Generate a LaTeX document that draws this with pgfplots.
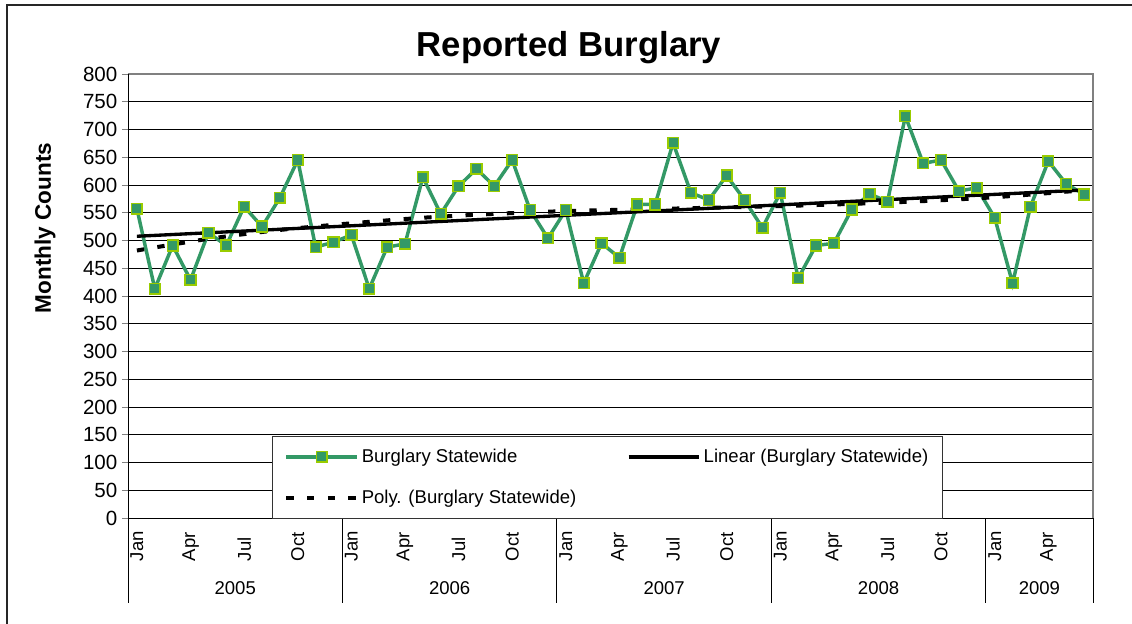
\documentclass[border=0pt]{standalone}
\usepackage{pgfplots}
\pgfplotsset{compat=1.18}
\usepackage{pgfplotstable}
\usepackage{fontspec}
\setmainfont{Liberation Sans}
\definecolor{serieslc}{RGB}{51,153,102}
\definecolor{markedge}{RGB}{153,204,0}
\definecolor{framegray}{RGB}{128,128,128}

\pgfplotstableread{
x y
0 557
1 413
2 491
3 429
4 514
5 491
6 561
7 525
8 577
9 645
10 488
11 497
12 510
13 413
14 488
15 494
16 614
17 548
18 598
19 629
20 598
21 645
22 555
23 504
24 555
25 423
26 495
27 469
28 565
29 565
30 676
31 586
32 573
33 617
34 573
35 523
36 586
37 432
38 491
39 495
40 556
41 584
42 570
43 724
44 639
45 645
46 589
47 595
48 541
49 423
50 561
51 643
52 602
53 583
}\burglary

\pgfplotstableread{
x y
0 482
4 503
8 519
12 531
16 541
20 548
24 553
28 556
32 559
36 562
40 566
44 571
48 578
52 588
53 591
}\polytrend

\begin{document}
\begin{tikzpicture}
\useasboundingbox (0pt,0pt) rectangle (849pt,-468pt);
\fill[white] (0pt,0pt) rectangle (849pt,-468pt);
\draw[line width=1.4pt, black!85] (5.25pt,-470pt) -- (5.25pt,-3.75pt) -- (851pt,-3.75pt);

\node[font=\bfseries\fontsize{26}{30}\selectfont, anchor=base] at (426.75pt,-42.5pt) {Reported Burglary};
\node[rotate=90, font=\bfseries\fontsize{16.9}{20}\selectfont] at (33.75pt,-171pt) {Monthly Counts};

\begin{axis}[
  at={(96pt,-388.5pt)}, anchor=south west, scale only axis,
  width=723.75pt, height=333pt,
  xmin=-0.5, xmax=53.5, ymin=0, ymax=800,
  ytick={0,50,...,800},
  xtick={0,3,...,51},
  xticklabels={Jan,Apr,Jul,Oct,Jan,Apr,Jul,Oct,Jan,Apr,Jul,Oct,Jan,Apr,Jul,Oct,Jan,Apr},
  ytick pos=left,
  xtick pos=bottom,
  ymajorgrids,
  grid style={black, line width=0.6pt},
  axis line style={draw=none},
  tick align=outside,
  major tick length=4.5pt,
  ytick style={framegray, line width=0.75pt},
  xtick style={draw=none},
  /pgf/number format/assume math mode=true,
  yticklabel style={font=\fontsize{15.4}{18}\selectfont},
  xticklabel style={font=\fontsize{13.9}{16}\selectfont, yshift=-28pt, rotate=90, anchor=west, inner sep=0pt},
  clip=false,
  legend columns=2,
  legend cell align=left,
  legend style={at={(0.1492,-0.002)}, anchor=south west, draw=black!80, line width=0.75pt, fill=white,
    font=\fontsize{13.9}{16}\selectfont, inner xsep=9pt, inner ysep=7.75pt, row sep=15pt,
    /tikz/every even column/.append style={column sep=36pt}},
  legend image code/.code={\draw[mark repeat=2,mark phase=2,#1] plot coordinates {(0pt,0pt) (26.5pt,0pt) (53pt,0pt)};},
]
\draw[framegray, line width=1.2pt] (rel axis cs:0,1) -- (rel axis cs:1,1) -- (rel axis cs:1,0);
\draw[black, line width=0.75pt] (rel axis cs:0,1) -- (rel axis cs:0,0) -- (rel axis cs:1,0);

\addplot[serieslc, line width=2.6pt, mark=square*, mark size=4pt,
  mark options={fill=serieslc, draw=markedge, line width=1.2pt, solid}]
  table[x=x, y=y] {\burglary};
\addlegendentry{Burglary Statewide}

\addplot[black, line width=2.5pt, no marks]
  table[x=x, y={create col/linear regression={y=y}}] {\burglary};
\addlegendentry{Linear (Burglary Statewide)}

\addplot[black, line width=3pt, no marks, smooth, dash pattern=on 5.5pt off 10pt]
  table[x=x, y=y] {\polytrend};
\addlegendentry{Poly. (Burglary Statewide)}

\draw[black, line width=0.75pt] (axis cs:-0.5,0) -- ++(0pt,-63.75pt);
\draw[black, line width=0.75pt] (axis cs:11.5,0) -- ++(0pt,-63.75pt);
\draw[black, line width=0.75pt] (axis cs:23.5,0) -- ++(0pt,-63.75pt);
\draw[black, line width=0.75pt] (axis cs:35.5,0) -- ++(0pt,-63.75pt);
\draw[black, line width=0.75pt] (axis cs:47.5,0) -- ++(0pt,-63.75pt);
\draw[black, line width=0.75pt] (axis cs:53.5,0) -- ++(0pt,-63.75pt);

\node[font=\fontsize{13.9}{16}\selectfont, yshift=-52.5pt] at (axis cs:5.5,0) {2005};
\node[font=\fontsize{13.9}{16}\selectfont, yshift=-52.5pt] at (axis cs:17.5,0) {2006};
\node[font=\fontsize{13.9}{16}\selectfont, yshift=-52.5pt] at (axis cs:29.5,0) {2007};
\node[font=\fontsize{13.9}{16}\selectfont, yshift=-52.5pt] at (axis cs:41.5,0) {2008};
\node[font=\fontsize{13.9}{16}\selectfont, yshift=-52.5pt] at (axis cs:50.5,0) {2009};
\end{axis}
\end{tikzpicture}
\end{document}
